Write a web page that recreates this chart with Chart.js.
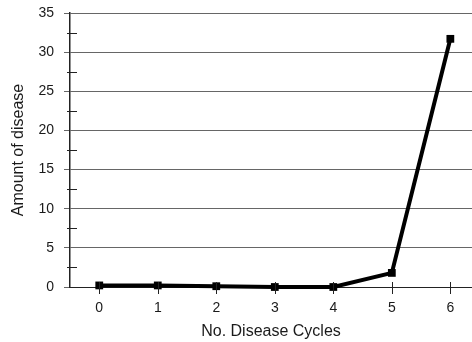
<!DOCTYPE html>
<html>
<head>
<meta charset="utf-8">
<script src="https://cdn.jsdelivr.net/npm/chart.js@4"></script>
<style>
  html, body { margin: 0; padding: 0; background: #fff; }
  #wrap { width: 472px; height: 342px; }
</style>
</head>
<body>
<div id="wrap"><canvas id="chart"></canvas></div>
<script>
var cycles = [0, 1, 2, 3, 4, 5, 6];
var disease = [0.2, 0.2, 0.1, 0.0, 0.0, 1.8, 31.7];
var yTicks = [0, 5, 10, 15, 20, 25, 30, 35];
var yMinorTicks = [2.5, 7.5, 12.5, 17.5, 22.5, 27.5, 32.5];

// small tick marks that cross the axes, like the printed original
var axisTicks = {
    id: 'axisTicks',
    afterDraw: function(chart) {
        var ctx = chart.ctx;
        var x = chart.scales.x, y = chart.scales.y;
        ctx.save();
        ctx.strokeStyle = '#222';
        ctx.lineWidth = 1;
        ctx.beginPath();
        yMinorTicks.forEach(function(v) {
            var py = Math.round(y.getPixelForValue(v)) + 0.5;
            ctx.moveTo(x.left - 3, py);
            ctx.lineTo(x.left + 7, py);
        });
        cycles.forEach(function(v) {
            var px = Math.round(x.getPixelForValue(v)) + 0.5;
            ctx.moveTo(px, y.bottom - 5);
            ctx.lineTo(px, y.bottom + 7);
        });
        ctx.stroke();
        ctx.restore();
    }
};

var tickFont = { family: 'Liberation Sans, Arial, sans-serif', size: 14 };
var titleFont = { family: 'Liberation Sans, Arial, sans-serif', size: 16 };

new Chart(document.getElementById('chart').getContext('2d'), {
    type: 'line',
    data: {
        datasets: [
            {
                label: 'Amount of disease',
                data: cycles.map((c, i) => ({ x: c, y: disease[i] })),
                borderColor: '#000',
                backgroundColor: '#000',
                borderWidth: 4,
                pointStyle: 'rect',
                pointRadius: 5.5,
                pointBorderWidth: 0,
                tension: 0,
                clip: false
            }
        ]
    },
    options: {
        responsive: true,
        maintainAspectRatio: false,
        animation: false,
        layout: { autoPadding: false, padding: { top: 13, right: 0, left: 0, bottom: 0 } },
        plugins: { legend: { display: false }, tooltip: { enabled: false } },
        scales: {
            x: {
                type: 'linear',
                min: -0.5,
                max: 6.37,
                afterBuildTicks: function(s) { s.ticks = cycles.map(v => ({ value: v })); },
                afterFit: function(s) { s.height = 55; },
                ticks: { color: '#1a1a1a', font: tickFont, padding: 13 },
                grid: { drawOnChartArea: false, drawTicks: false },
                border: { color: '#222', width: 1 },
                title: { display: true, text: 'No. Disease Cycles', color: '#1a1a1a', font: titleFont, padding: { top: 4, bottom: 1 } }
            },
            y: {
                min: 0,
                max: 35,
                afterBuildTicks: function(s) { s.ticks = yTicks.map(v => ({ value: v })); },
                afterFit: function(s) { s.width = 70; s.paddingTop = 0; s.paddingBottom = 0; },
                ticks: { color: '#1a1a1a', font: tickFont, padding: 10 },
                grid: { color: '#666', lineWidth: 1, tickLength: 6 },
                border: { color: '#222', width: 1.5 },
                title: { display: true, text: 'Amount of disease', color: '#1a1a1a', font: titleFont, padding: { top: 9, bottom: 0 } }
            }
        }
    },
    plugins: [axisTicks]
});
</script>
</body>
</html>
